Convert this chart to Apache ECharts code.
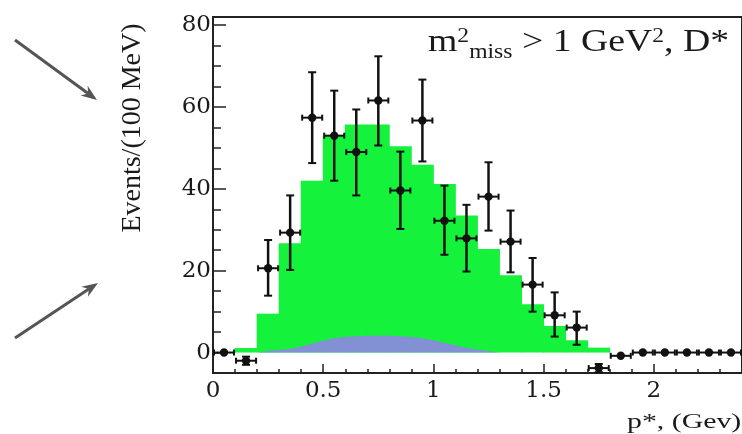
<!DOCTYPE html>
<html><head><meta charset="utf-8">
<script src="https://cdn.jsdelivr.net/npm/echarts@6/dist/echarts.min.js"></script>
<style>html,body{margin:0;padding:0;background:#fff}#c{width:742px;height:434px}</style>
</head><body><div id="c"></div>
<script>
// ---- data ----
const binEdges = [0,0.1,0.2,0.3,0.4,0.5,0.6,0.7,0.8,0.9,1.0,1.1,1.2,1.3,1.4,1.5,1.6,1.7,1.8,1.9,2.0,2.1,2.2,2.3,2.4];
const greenValues = [0,1.1,9.5,26.7,42,53,55.7,55.7,50.4,45.9,41.2,33.5,25.3,18.9,11.8,6.5,3.0,1.2,0,0,0,0,0,0];
const blueX = [0.2,0.25,0.35,0.45,0.55,0.65,0.75,0.85,0.95,1.05,1.15,1.25,1.3];
const blueY = [0,0.4,0.9,2.2,3.5,4.0,4.1,4.0,3.5,2.4,1.2,0.4,0];
const pointX = [0.05,0.15,0.25,0.35,0.45,0.55,0.65,0.75,0.85,0.95,1.05,1.15,1.25,1.35,1.45,1.55,1.65,1.75,1.85,1.95,2.05,2.15,2.25,2.35];
const pointY = [0,-2,20.6,29.3,57.4,53,49,61.6,39.6,56.7,32.2,27.9,38.1,27.1,16.6,9.1,6.1,-3.8,-0.8,0,0,0,0,0];
const pointLow = [0,-3,13.9,20.2,46.3,42,38.4,50.6,30.2,46.7,23.9,19.8,29.8,19.6,10.0,3.9,1.9,-4.8,-0.8,0,0,0,0,0];
const pointHigh = [0,-1,27.5,38.4,68.5,64,59.4,72.4,49.1,66.7,40.8,36.1,46.5,34.7,23.1,14.7,10.0,-2.8,-0.8,0,0,0,0,0];
const halfBin = 0.05;
const xTickLabels = [0,0.5,1,1.5,2];
const yTickLabels = [0,20,40,60,80];
const yMinorTicks = [-5,0,5,10,15,20,25,30,35,40,45,50,55,60,65,70,75,80];
const yAxisTitle = 'Events/(100 MeV)';
const xAxisTitle = 'p*, (Gev)';

// ---- styles ----
const GREEN = '#14f23c', BLUE = '#8191d4', INK = '#1a1a1a', AXIS = '#222';
const SERIF = '"Liberation Serif", "Times New Roman", serif';
const TICKFONT = '"DejaVu Serif", serif';

const greenData = greenValues.map((v,i)=>[binEdges[i], binEdges[i+1], v]);
const blueData = blueX.map((x,i)=>[x, blueY[i]]);
const pointData = pointX.map((x,i)=>[x, pointY[i], pointLow[i], pointHigh[i]]);

const chart = echarts.init(document.getElementById('c'), null, {renderer:'canvas'});

function arrow(x1,y1,x2,y2){
  const dx=x2-x1, dy=y2-y1, L=Math.hypot(dx,dy), ux=dx/L, uy=dy/L, hl=16, hw=6;
  const bx=x2-ux*hl, by=y2-uy*hl;
  return [
    {type:'line', shape:{x1:x1,y1:y1,x2:bx+ux*5,y2:by+uy*5}, style:{stroke:'#555', lineWidth:3}},
    {type:'polygon', shape:{points:[[x2,y2],[bx-uy*hw,by+ux*hw],[bx+ux*5,by+uy*5],[bx+uy*hw,by-ux*hw]]}, style:{fill:'#555'}}
  ];
}

// annotation pieces laid out by measured width
const mctx = document.createElement('canvas').getContext('2d');
function tw(t,s){ mctx.font = s+'px "Liberation Serif"'; return mctx.measureText(t).width; }
const pieces = [
  {t:'m', s:32, cy:43},
  {t:'2', s:20, cy:37},
  {t:'miss', s:20, cy:53},
  {t:' > 1 GeV', s:32, cy:43},
  {t:'2', s:20, cy:37},
  {t:', D*', s:32, cy:43}
];
let cx = 0;
const annChildren = pieces.map(p=>{
  const el = {type:'text', x:cx, y:p.cy, style:{text:p.t, font:p.s+'px '+SERIF, fill:INK, verticalAlign:'middle', align:'left'}};
  cx += tw(p.t,p.s);
  return el;
});

const option = {
  animation:false,
  grid:{left:213, top:17, width:533, height:356, show:true, borderColor:AXIS, borderWidth:2, backgroundColor:'transparent'},
  xAxis:[
    {type:'value', min:0, max:2.4, position:'bottom',
     axisLine:{show:true, onZero:false, lineStyle:{color:AXIS, width:2}},
     axisTick:{show:true, inside:true, length:9, customValues:xTickLabels, lineStyle:{color:AXIS, width:1.5}},
     axisLabel:{show:true, customValues:xTickLabels, margin:7, color:INK, fontFamily:TICKFONT, fontSize:23, formatter:v=>String(v)},
     splitLine:{show:false}},
    {type:'value', min:0, max:2.4, position:'bottom',
     axisLine:{show:false, onZero:false},
     axisTick:{show:true, inside:true, length:4, customValues:binEdges, lineStyle:{color:AXIS, width:1.5}},
     axisLabel:{show:false}, splitLine:{show:false}}
  ],
  yAxis:[
    {type:'value', min:-5, max:82, position:'left',
     axisLine:{show:true, onZero:false, lineStyle:{color:AXIS, width:2}},
     axisTick:{show:true, inside:true, length:13, customValues:yTickLabels, lineStyle:{color:AXIS, width:1.5}},
     axisLabel:{show:true, customValues:yTickLabels, margin:2, color:INK, fontFamily:TICKFONT, fontSize:23},
     splitLine:{show:false}},
    {type:'value', min:-5, max:82, position:'left',
     axisLine:{show:false, onZero:false},
     axisTick:{show:true, inside:true, length:8, customValues:yMinorTicks, lineStyle:{color:AXIS, width:1.5}},
     axisLabel:{show:false}, splitLine:{show:false}}
  ],
  series:[
    {type:'custom', xAxisIndex:0, yAxisIndex:0, z:2, data:greenData,
     renderItem:(params, api)=>{
       const v = api.value(2);
       if (!(v > 0)) return null;
       const p0 = api.coord([api.value(0), 0]);
       const p1 = api.coord([api.value(1), v]);
       return {type:'rect', shape:{x:p0[0]-0.4, y:p1[1], width:p1[0]-p0[0]+0.8, height:p0[1]-p1[1]}, style:{fill:GREEN}};
     }},
    {type:'line', xAxisIndex:0, yAxisIndex:0, z:3, data:blueData, smooth:0.4, showSymbol:false, symbol:'none',
     lineStyle:{width:0, color:BLUE}, areaStyle:{color:BLUE, opacity:1}},
    {type:'custom', xAxisIndex:0, yAxisIndex:0, z:5, data:pointData, clip:false,
     renderItem:(params, api)=>{
       const x=api.value(0), y=api.value(1), lo=api.value(2), hi=api.value(3);
       const c = api.coord([x,y]);
       const l = api.coord([x-halfBin,y]), r = api.coord([x+halfBin,y]);
       const st = {stroke:'#111', lineWidth:2};
       const sv = {stroke:'#111', lineWidth:2.5};
       const ch = [
         {type:'line', shape:{x1:l[0]+1,y1:c[1],x2:r[0]-1,y2:c[1]}, style:st},
         {type:'line', shape:{x1:l[0]+1,y1:c[1]-3,x2:l[0]+1,y2:c[1]+3}, style:st},
         {type:'line', shape:{x1:r[0]-1,y1:c[1]-3,x2:r[0]-1,y2:c[1]+3}, style:st}
       ];
       if (hi > lo) {
         const pl = api.coord([x,lo]), ph = api.coord([x,hi]);
         ch.push({type:'line', shape:{x1:c[0],y1:pl[1],x2:c[0],y2:ph[1]}, style:sv});
         ch.push({type:'line', shape:{x1:c[0]-4,y1:pl[1],x2:c[0]+4,y2:pl[1]}, style:st});
         ch.push({type:'line', shape:{x1:c[0]-4,y1:ph[1],x2:c[0]+4,y2:ph[1]}, style:st});
       }
       ch.push({type:'circle', shape:{cx:c[0], cy:c[1], r:4.2}, style:{fill:'#111'}});
       return {type:'group', children:ch};
     }}
  ],
  graphic:[
    {type:'group', x:428, y:0, scaleX:1.18, children:annChildren},
    {type:'text', x:133, y:128, rotation:Math.PI/2, style:{text:yAxisTitle, font:'28px '+SERIF, fill:INK, align:'center', verticalAlign:'middle'}},
    {type:'text', x:627, y:422, scaleX:1.42, style:{text:xAxisTitle, font:'21px '+SERIF, fill:INK, align:'left', verticalAlign:'middle'}},
    ...arrow(15,40,97,100),
    ...arrow(15,338,98,283)
  ]
};
chart.setOption(option);
</script>
</body></html>
